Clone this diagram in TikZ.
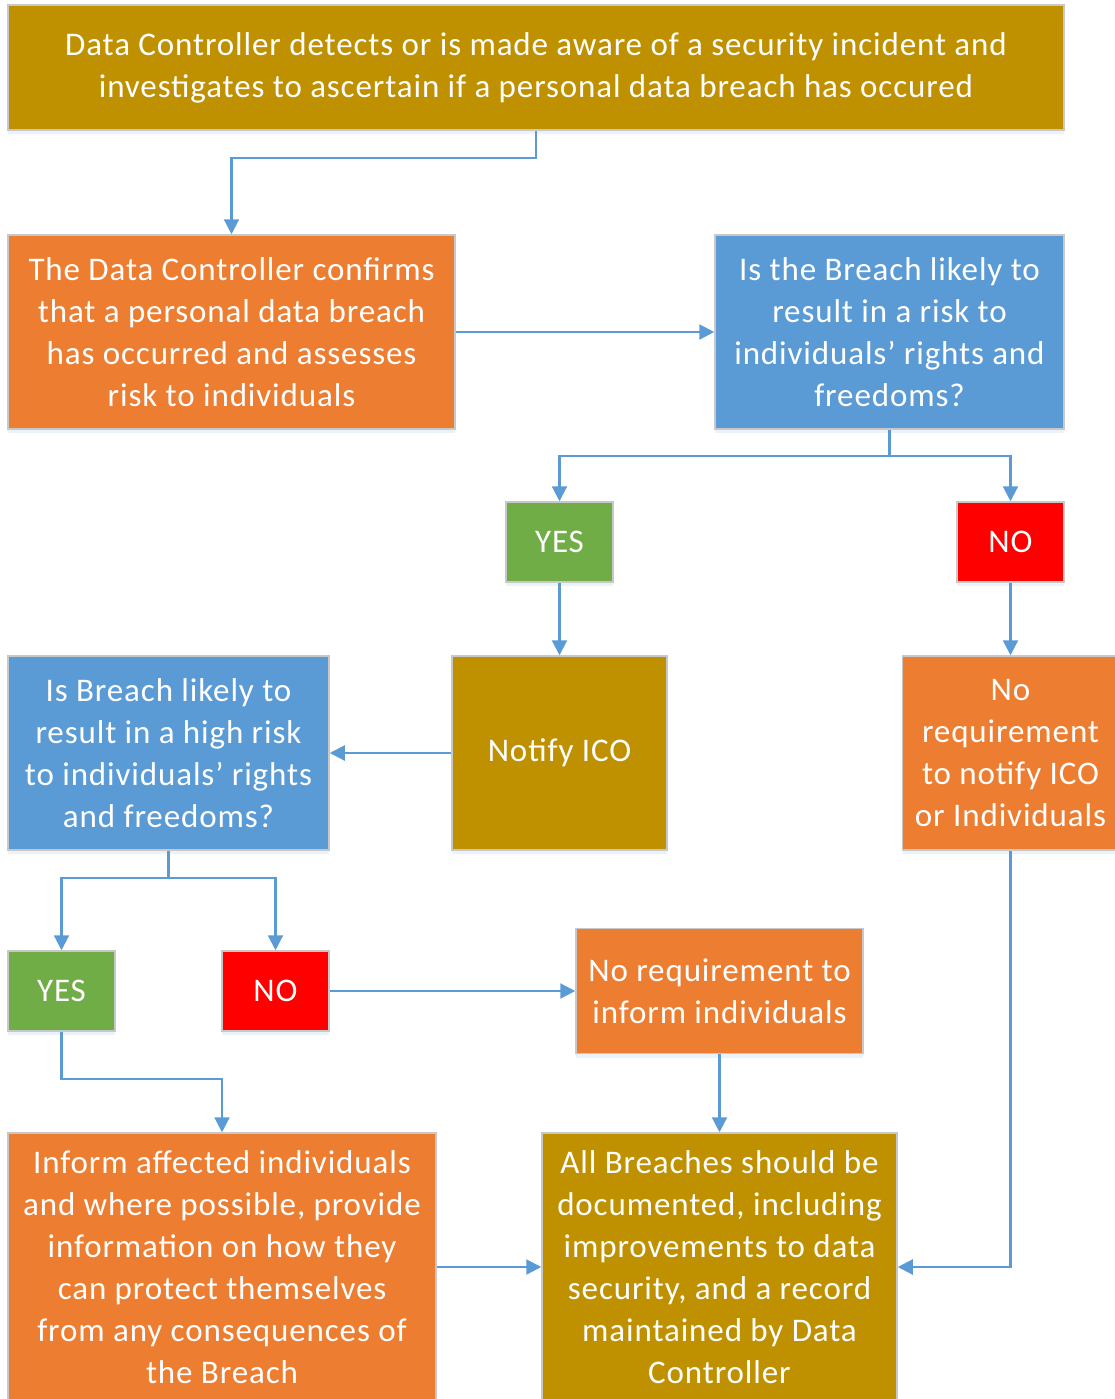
\documentclass[tikz,border=0pt]{standalone}
\usepackage{fontspec}
\setmainfont{Carlito}[LetterSpace=2.7]
\usetikzlibrary{arrows.meta,positioning,shadows}
\definecolor{gdgold}{HTML}{BF9000}
\definecolor{gdorange}{HTML}{ED7D31}
\definecolor{gdblue}{HTML}{5B9BD5}
\definecolor{gdgreen}{HTML}{70AD47}
\definecolor{gdred}{HTML}{FF0000}
\definecolor{gdedge}{HTML}{C8C8C8}
\definecolor{gdline}{HTML}{5B9BD5}
\tikzset{
   flow/.style={draw=gdedge, line width=1.5pt, text=white, align=center,
      inner sep=0pt, font=\fontsize{33}{42}\selectfont,
      drop shadow={shadow xshift=0pt, shadow yshift=-4pt, fill=gdline, opacity=.12}},
   gold box/.style={flow, fill=gdgold},
   orange box/.style={flow, fill=gdorange},
   blue box/.style={flow, fill=gdblue},
   yes box/.style={flow, fill=gdgreen, minimum width=107pt, minimum height=80pt},
   no box/.style={flow, fill=gdred, minimum width=107pt, minimum height=80pt},
   link/.style={draw=gdline, line width=2.2pt, -{Triangle[length=15pt,width=15pt]}}
}
\begin{document}
\begin{tikzpicture}[x=1pt, y=-1pt]
    \useasboundingbox (0,0) rectangle (1115,1399);
    % First step: incident found
    \node[gold box, minimum width=1056pt, minimum height=125pt] (detect) at (536,67.5)
      {Data Controller detects or is made aware of a security incident and\\investigates to ascertain if a personal data breach has occured};
    \node[orange box, minimum width=447pt, minimum height=194pt] (confirm) at (231.5,332)
      {The Data Controller confirms\\that a personal data breach\\has occurred and assesses\\risk to individuals};
    \node[blue box, minimum width=349pt, minimum height=194pt] (risk) at (889.5,332)
      {Is the Breach likely to\\result in a risk to\\individuals’ rights and\\freedoms?};

    % First decision
    \node[yes box] (yesA) at (559.5,542) {YES};
    \node[no box] (noA) at (1010.5,542) {NO};
    \node[gold box, minimum width=215pt, minimum height=194pt] (notify) at (559.5,753) {Notify ICO};
    \node[blue box, minimum width=321pt, minimum height=194pt] (high) at (168.5,753)
      {Is Breach likely to\\result in a high risk\\to individuals’ rights\\and freedoms?};
    \node[orange box, minimum width=216pt, minimum height=194pt] (noreq) at (1010.5,753)
      {No\\requirement\\to notify ICO\\or Individuals};

    % Second decision
    \node[yes box] (yesB) at (61.5,991) {YES};
    \node[no box] (noB) at (275.5,991) {NO};
    \node[orange box, minimum width=287pt, minimum height=125pt] (noinform) at (719.5,991)
      {No requirement to\\inform individuals};
    \node[orange box, minimum width=428pt, minimum height=268pt] (inform) at (222,1267)
      {Inform affected individuals\\and where possible, provide\\information on how they\\can protect themselves\\from any consequences of\\the Breach};
    \node[gold box, minimum width=355pt, minimum height=268pt] (record) at (719.5,1267)
      {All Breaches should be\\documented, including\\improvements to data\\security, and a record\\maintained by Data\\Controller};

    % Connectors
    \draw[link] (detect.south) -- ++(0,27) -| (confirm.north);
    \draw[link] (confirm.east) -- (risk.west);
    \draw[link] (risk.south) -- ++(0,26) -| (yesA.north);
    \draw[link] (risk.south) -- ++(0,26) -| (noA.north);
    \draw[link] (yesA.south) -- (notify.north);
    \draw[link] (noA.south) -- (noreq.north);
    \draw[link] (notify.west) -- (high.east);
    \draw[link] (high.south) -- ++(0,27) -| (yesB.north);
    \draw[link] (high.south) -- ++(0,27) -| (noB.north);
    \draw[link] (noB.east) -- (noinform.west);
    \draw[link] (yesB.south) -- ++(0,47) -| (inform.north);
    \draw[link] (noinform.south) -- (record.north);
    \draw[link] (inform.east) -- (record.west);
    \draw[link] (noreq.south) |- (record.east);
\end{tikzpicture}
\end{document}
